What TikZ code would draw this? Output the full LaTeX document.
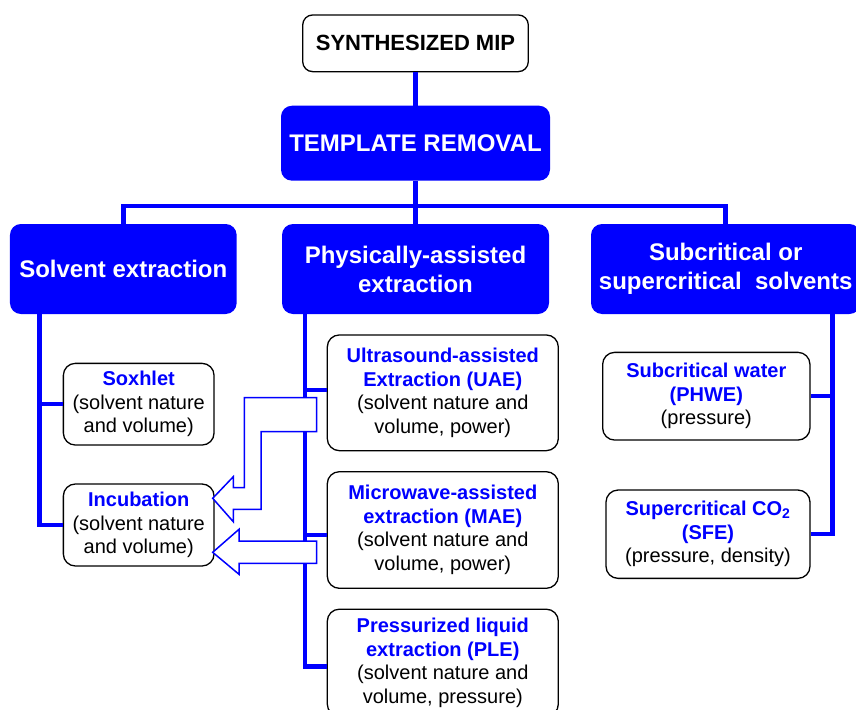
\documentclass[tikz,border=0pt]{standalone}
\usepackage{fontspec}
\setmainfont{Liberation Sans}
\definecolor{pblue}{RGB}{0,0,255}
\newcommand{\hd}[1]{{\color{pblue}\bfseries #1}}
\begin{document}
\begin{tikzpicture}[x=1pt,y=-1pt,
  conn/.style={draw=pblue, line width=4.5pt},
  topbox/.style={draw=black, line width=1.3pt, rounded corners=10pt, fill=white, align=center, inner sep=0pt, font=\bfseries\fontsize{22}{26}\selectfont},
  bigbox/.style={fill=pblue, rounded corners=11pt, text=white, align=center, inner sep=0pt, font=\bfseries\fontsize{24}{29}\selectfont},
  smallbox/.style={draw=black, line width=1.3pt, rounded corners=12pt, fill=white, align=center, inner sep=0pt, font=\fontsize{20}{23.6}\selectfont},
  blockarrow/.style={draw=pblue, fill=white, line width=1.5pt, line join=miter}]
\useasboundingbox (0,0) rectangle (856,709);

% nodes
\node[topbox, minimum width=225.6pt, minimum height=56.7pt] (mip) at (415.5,43.3) {SYNTHESIZED MIP};
\node[bigbox, minimum width=269pt, minimum height=75pt] (tr) at (415.5,143.2) {TEMPLATE REMOVAL};
\node[bigbox, minimum width=226.7pt, minimum height=90pt] (se) at (123.3,269) {Solvent extraction};
\node[bigbox, minimum width=267pt, minimum height=90pt] (pe) at (415.5,269) {Physically-assisted\\extraction};
\node[bigbox, minimum width=269.4pt, minimum height=90pt] (sc) at (725.7,269) {Subcritical or\\supercritical\ \ solvents};

\node[smallbox, minimum width=150.7pt, minimum height=81.7pt] (sox) at (138.7,404.2) {\hd{Soxhlet}\\(solvent nature\\and volume)};
\node[smallbox, minimum width=150.7pt, minimum height=82pt] (inc) at (138.7,525) {\hd{Incubation}\\(solvent nature\\and volume)};

\node[smallbox, minimum width=231pt, minimum height=115.7pt] (uae) at (442.8,392.8) {\hd{Ultrasound-assisted}\\\hd{Extraction (UAE)}\\(solvent nature and\\volume, power)};
\node[smallbox, minimum width=231pt, minimum height=116.6pt] (mae) at (442.8,530) {\hd{Microwave-assisted}\\\hd{extraction (MAE)}\\(solvent nature and\\volume, power)};
\node[smallbox, minimum width=231pt, minimum height=107pt] (ple) at (442.8,662.7) {\hd{Pressurized liquid}\\\hd{extraction (PLE)}\\(solvent nature and\\volume, pressure)};

\node[smallbox, minimum width=207.3pt, minimum height=87.7pt] (phwe) at (706.3,396.2) {\hd{Subcritical water}\\\hd{(PHWE)}\\(pressure)};
\node[smallbox, minimum width=204pt, minimum height=88.3pt] (sfe) at (708,534.2) {\hd{Supercritical CO\textsubscript{2}}\\\hd{(SFE)}\\(pressure, density)};

% connectors
\coordinate (hl) at (415.5,206);
\coordinate (lx) at (39.3,0);
\coordinate (mx) at (304.8,0);
\coordinate (rx) at (832.3,0);
\coordinate (uaein) at ([yshift=3pt]uae.west);
\coordinate (maein) at ([yshift=-5pt]mae.west);
\coordinate (plein) at ([yshift=-4pt]ple.west);

\draw[conn] (mip.south) -- (tr.north);
\draw[conn] (tr.south) -- (pe.north);
\draw[conn] (se.north) -- (se.north |- hl) -- (sc.north |- hl) -- (sc.north);

\draw[conn] (se.south -| lx) |- (inc.west);
\draw[conn] (lx |- sox.west) -- (sox.west);

\draw[conn] (pe.south -| mx) |- (plein);
\draw[conn] (mx |- uaein) -- (uaein);
\draw[conn] (mx |- maein) -- (maein);

\draw[conn] (sc.south -| rx) |- (sfe.east);
\draw[conn] (rx |- phwe.east) -- (phwe.east);

% block arrows
\draw[blockarrow] (316.7,397.7) -- (244.3,397.7) -- (244.3,487.7) -- (233.3,487.7) -- (233.3,476.7) -- (212.7,498.3) -- (233.3,521.7) -- (233.3,509.3) -- (261,509.3) -- (261,431.7) -- (316.7,431.7) -- cycle;
\draw[blockarrow] (316.7,541) -- (239,541) -- (239,529.3) -- (212.7,552.3) -- (239,574.3) -- (239,563.3) -- (316.7,563.3) -- cycle;
\end{tikzpicture}
\end{document}
